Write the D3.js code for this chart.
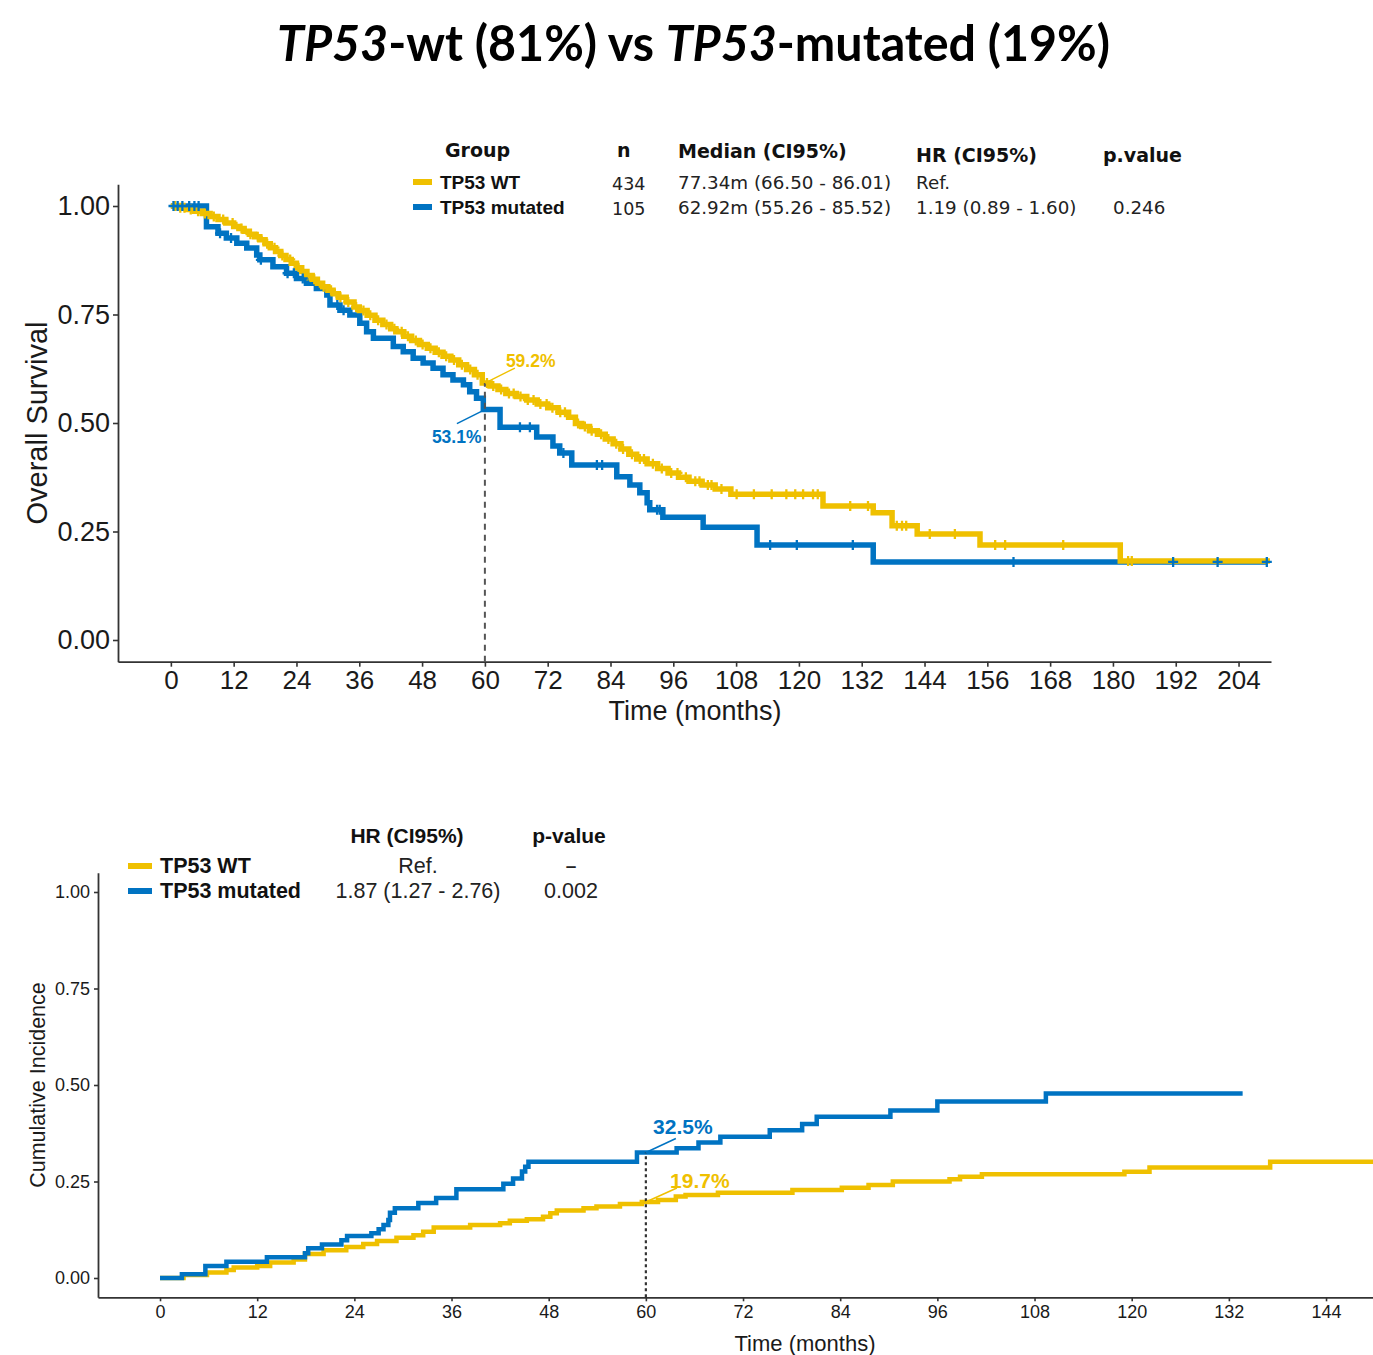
<!DOCTYPE html>
<html>
<head>
<meta charset="utf-8">
<script src="https://cdn.jsdelivr.net/npm/d3@7"></script>
<style>
  html, body { margin: 0; padding: 0; background: #fff; }
  svg { display: block; }
</style>
</head>
<body>
<svg id="chart" width="1373" height="1355"></svg>
<script>
// ---------------- data ----------------
const groups = ["TP53 WT", "TP53 mutated"];
const groupColors = ["#EFC000", "#0073C2"];

const titleParts = [
  { text: "TP53", italic: true },
  { text: "-wt (81%) vs ", italic: false },
  { text: "TP53", italic: true },
  { text: "-mutated (19%)", italic: false }
];

// Overall survival: event times (months) and survival after each step
const wtOsTime = [1.5, 3, 4.5, 6, 7.5, 9, 10.5, 12, 13, 14, 15, 16, 17, 18, 19, 20, 21, 22, 23, 24, 25, 26, 27, 28, 29, 30, 31, 32,
  33.5, 35, 36, 37.5, 39, 40.5, 42, 43, 44.5, 46, 47.5, 49, 50.5, 52, 53.5, 55, 56.5, 58, 59.5,
  61, 62.5, 64, 66, 68, 70, 72, 74, 76, 77.3,
  78.5, 80, 81.5, 83, 84.5, 86, 87.5, 89, 91, 93, 95, 97, 99, 101.5, 104, 107,
  124.6, 134.2, 137.8, 142.6, 154.6, 181.4];
const wtOsSurv = [0.996, 0.992, 0.988, 0.983, 0.976, 0.969, 0.961, 0.953,
  0.948, 0.942, 0.935, 0.929, 0.922, 0.913, 0.904, 0.895, 0.886, 0.877, 0.868, 0.858, 0.849, 0.840, 0.831, 0.822, 0.814, 0.806, 0.798, 0.790,
  0.779, 0.767, 0.759, 0.748, 0.737, 0.727, 0.717, 0.710, 0.700, 0.690, 0.681, 0.672, 0.663, 0.654, 0.645, 0.634, 0.623, 0.611, 0.592,
  0.585, 0.577, 0.568, 0.561, 0.553, 0.544, 0.535, 0.525, 0.513, 0.499,
  0.492, 0.482, 0.474, 0.463, 0.452, 0.440, 0.428, 0.417, 0.406, 0.395, 0.385, 0.375, 0.366, 0.357, 0.348, 0.336,
  0.309, 0.293, 0.263, 0.244, 0.219, 0.182];
const wtOsEnd = 210;
const wtOsCensor = [0.8, 1.8, 2.6, 3.8, 5.2, 6.5, 8.2, 10, 11.8, 13.5, 15.2, 16.6, 18.4, 19.8, 21.3, 22.8, 24.4, 26.1, 27.4, 29.2,
  30.6, 32.4, 33.9, 35.4, 36.8, 38.1, 39.6, 41.2, 42.7, 44.1, 45.3, 46.8, 48.1, 49.6, 51.2, 52.6, 54.1, 55.6, 57.2, 58.6,
  60.4, 61.6, 63.1, 64.6, 65.5, 66.8, 68.2, 69.3, 70.6, 71.8, 72.9, 74.4, 75.3, 77.8, 79.1, 80.4, 82.2, 83.6, 85.1, 86.4,
  88.1, 89.6, 90.4, 92.1, 93.8, 95.6, 96.8, 98.4, 100.2, 101.0, 102.6, 103.3, 105.2, 108.1, 111.4, 114.8, 117.6, 119.3,
  120.8, 122.7, 123.6, 129.8, 133.2, 138.7, 139.7, 140.5, 145.0, 149.8, 157.5, 159.4, 170.5, 182.9, 183.6];

const mutOsTime = [6.8, 9.0, 10.6, 12.6, 14.5, 16.4, 17.0, 19.5,
  22.1, 24.0, 25.9, 27.8, 29.8, 30.4, 32.3, 34.2, 36.1, 37.4, 38.7,
  42.5, 44.4, 46.3, 48.2, 50.1, 52.0, 53.9, 55.9, 57.1, 58.4, 59.7,
  62.9, 69.9, 73.0, 74.3, 76.6, 85.2, 87.7, 89.6, 91.0, 91.5, 94.0, 101.7, 112.0, 134.2];
const mutOsSurv = [0.952, 0.937, 0.926, 0.914, 0.903, 0.887, 0.876, 0.860,
  0.845, 0.833, 0.822, 0.810, 0.795, 0.772, 0.760, 0.749, 0.730, 0.710, 0.695,
  0.676, 0.664, 0.649, 0.638, 0.626, 0.611, 0.599, 0.588, 0.572, 0.557, 0.531,
  0.490, 0.468, 0.447, 0.431, 0.403, 0.376, 0.357, 0.339, 0.316, 0.300, 0.283, 0.260, 0.219, 0.180];
const mutOsEnd = 209.4;
const mutOsCensor = [0.5, 1.3, 2.2, 3.5, 4.5, 5.3, 9.4, 11.5, 17.2, 22.3, 23.5, 25.2, 31.8, 33.0,
  66.7, 68.6, 75.0, 81.4, 82.4, 92.9, 93.4, 114.5, 119.6, 130.3, 161.0, 191.5, 200.0, 209.4];

const osXTicks = [0, 12, 24, 36, 48, 60, 72, 84, 96, 108, 120, 132, 144, 156, 168, 180, 192, 204];
const osYTicks = [0, 0.25, 0.5, 0.75, 1];

const osHeaders = ["Group", "n", "Median (CI95%)", "HR (CI95%)", "p.value"];
const osN = ["434", "105"];
const osMedian = ["77.34m (66.50 - 86.01)", "62.92m (55.26 - 85.52)"];
const osHR = ["Ref.", "1.19 (0.89 - 1.60)"];
const osP = ["", "0.246"];

// Cumulative incidence: event times (months) and cumulative incidence after each step
const wtCiTime = [2.9, 5.8, 8.2, 9.1, 12.0, 13.6, 16.5, 17.9, 20.2, 23.0,
  25.1, 26.8, 29.2, 31.3, 32.5, 33.8, 38.3, 42.0, 43.2, 45.3,
  47.3, 48.2, 49.0, 52.3, 53.9, 56.8, 59.5, 61.5, 63.7, 64.9,
  68.9, 78.1, 84.2, 87.5, 90.5, 97.5, 98.8, 101.5, 119.1, 122.2, 137.1];
const wtCiVal = [0.008, 0.014, 0.021, 0.027, 0.031, 0.040, 0.048, 0.062, 0.072, 0.080,
  0.088, 0.096, 0.104, 0.111, 0.120, 0.131, 0.137, 0.142, 0.148, 0.152,
  0.159, 0.168, 0.175, 0.181, 0.185, 0.192, 0.197, 0.202, 0.211, 0.215,
  0.221, 0.228, 0.234, 0.241, 0.250, 0.256, 0.262, 0.269, 0.275, 0.286, 0.301];
const wtCiEnd = 149.8;

const mutCiTime = [2.7, 5.6, 8.2, 13.2, 17.9, 18.3, 20.0, 22.4, 23.1, 26.1,
  27.0, 27.6, 28.2, 28.4, 29.0, 31.9, 34.1, 36.6, 42.4, 43.6,
  44.7, 45.1, 45.5, 58.9, 63.8, 66.5, 69.2, 75.3, 79.3, 81.1,
  90.2, 96.0, 109.4];
const mutCiVal = [0.010, 0.031, 0.042, 0.054, 0.064, 0.077, 0.087, 0.098, 0.109, 0.116,
  0.126, 0.137, 0.150, 0.169, 0.181, 0.194, 0.207, 0.230, 0.244, 0.258,
  0.276, 0.288, 0.301, 0.325, 0.336, 0.351, 0.366, 0.383, 0.399, 0.418,
  0.434, 0.457, 0.478];
const mutCiEnd = 133.7;

const ciXTicks = [0, 12, 24, 36, 48, 60, 72, 84, 96, 108, 120, 132, 144];
const ciYTicks = [0, 0.25, 0.5, 0.75, 1];

const ciHeaders = ["HR (CI95%)", "p-value"];
const ciHR = ["Ref.", "1.87 (1.27 - 2.76)"];
const ciP = ["\u2013", "0.002"];

const landmark = 60;

// ---------------- helpers ----------------
function stepPoints(times, vals, start, end) {
  const pts = [[0, start]];
  times.forEach((t, i) => pts.push([t, vals[i]]));
  pts.push([end, vals[vals.length - 1]]);
  return pts;
}
function valueAt(times, vals, start, t) {
  let v = start;
  for (let i = 0; i < times.length; i++) if (times[i] <= t) v = vals[i];
  return v;
}
const pct = d3.format(".1%");
const SANS = "'Liberation Sans', Arial, sans-serif";
const DEJA = "'DejaVu Sans', Verdana, sans-serif";

const svg = d3.select("#chart");

// ---------------- title ----------------
const title = svg.append("text")
  .attr("x", 277).attr("y", 61)
  .attr("font-family", "Lato, 'Open Sans', sans-serif")
  .attr("font-weight", 700)
  .attr("font-size", 50)
  .attr("fill", "#000")
  .attr("textLength", 833)
  .attr("lengthAdjust", "spacingAndGlyphs");
titleParts.forEach(p => title.append("tspan")
  .attr("font-style", p.italic ? "italic" : "normal")
  .text(p.text));

function styleAxis(g, fontSize) {
  g.select(".domain").attr("stroke", "#333").attr("stroke-width", 1.8);
  g.selectAll(".tick line").attr("stroke", "#333").attr("stroke-width", 1.6);
  g.selectAll(".tick text").attr("font-family", SANS).attr("font-size", fontSize).attr("fill", "#1a1a1a");
}

function crossPath(px, py, r) {
  return `M${px - r},${py}H${px + r}M${px},${py - r}V${py + r}`;
}

// ================= Overall survival panel =================
const x1 = d3.scaleLinear().domain([-10.1, 210.2]).range([118, 1271]);
const y1 = d3.scaleLinear().domain([-0.05, 1.05]).range([661.7, 184.3]);

const gx1 = svg.append("g").attr("transform", `translate(0,${y1.range()[0]})`)
  .call(d3.axisBottom(x1).tickValues(osXTicks).tickSize(5).tickSizeOuter(0).tickPadding(4));
styleAxis(gx1, 26);
const gy1 = svg.append("g").attr("transform", `translate(${x1.range()[0]},0)`)
  .call(d3.axisLeft(y1).tickValues(osYTicks).tickFormat(d3.format(".2f")).tickSize(5).tickSizeOuter(0).tickPadding(3));
styleAxis(gy1, 27);

svg.append("text").attr("x", 695).attr("y", 720)
  .attr("text-anchor", "middle").attr("font-family", SANS).attr("font-size", 27).attr("fill", "#1a1a1a")
  .text("Time (months)");
svg.append("text").attr("transform", "translate(47,423) rotate(-90)")
  .attr("text-anchor", "middle").attr("font-family", SANS).attr("font-size", 29).attr("fill", "#1a1a1a")
  .text("Overall Survival");

const osLine = d3.line().x(d => x1(d[0])).y(d => y1(d[1])).curve(d3.curveStepAfter);
const osSeries = [
  { time: wtOsTime, val: wtOsSurv, end: wtOsEnd, censor: wtOsCensor, color: groupColors[0] },
  { time: mutOsTime, val: mutOsSurv, end: mutOsEnd, censor: mutOsCensor, color: groupColors[1] }
];
// mutated curve first, WT above it
[osSeries[1], osSeries[0]].forEach(s => {
  svg.append("path").datum(stepPoints(s.time, s.val, 1, s.end))
    .attr("d", osLine).attr("fill", "none").attr("stroke", s.color)
    .attr("stroke-width", 5.5).attr("stroke-linejoin", "miter");
});
osSeries.forEach(s => {
  svg.append("g").selectAll("path").data(s.censor).join("path")
    .attr("d", t => crossPath(x1(t), y1(valueAt(s.time, s.val, 1, t)), 5))
    .attr("stroke", s.color).attr("stroke-width", 2.3).attr("fill", "none");
});

// landmark at 60 months
const osLmWT = valueAt(wtOsTime, wtOsSurv, 1, landmark);
const osLmMut = valueAt(mutOsTime, mutOsSurv, 1, landmark);
svg.append("line")
  .attr("x1", x1(landmark)).attr("x2", x1(landmark))
  .attr("y1", y1.range()[0]).attr("y2", y1(osLmWT))
  .attr("stroke", "#555").attr("stroke-width", 2).attr("stroke-dasharray", "6,5");
svg.append("line").attr("x1", x1(landmark)).attr("y1", y1(osLmWT))
  .attr("x2", x1(landmark) + 30).attr("y2", y1(osLmWT) - 15)
  .attr("stroke", groupColors[0]).attr("stroke-width", 1.5);
svg.append("text").attr("x", x1(landmark) + 21).attr("y", y1(osLmWT) - 16)
  .attr("font-family", SANS).attr("font-weight", 700).attr("font-size", 17.5).attr("fill", groupColors[0])
  .text(pct(osLmWT));
svg.append("line").attr("x1", x1(landmark)).attr("y1", y1(osLmMut))
  .attr("x2", x1(landmark) - 28).attr("y2", y1(osLmMut) + 14)
  .attr("stroke", groupColors[1]).attr("stroke-width", 1.5);
svg.append("text").attr("x", x1(landmark) - 53).attr("y", y1(osLmMut) + 33)
  .attr("font-family", SANS).attr("font-weight", 700).attr("font-size", 17.5).attr("fill", groupColors[1])
  .text(pct(osLmMut));

// legend table
const osCols = [445, 617, 678, 916, 1103];
const osHeadY = [157, 157, 158, 162, 162];
osHeaders.forEach((h, i) => svg.append("text")
  .attr("x", osCols[i]).attr("y", osHeadY[i])
  .attr("font-family", DEJA).attr("font-weight", 700).attr("font-size", 19).attr("fill", "#111")
  .text(h));
const osRowY = [189, 214];
groups.forEach((g, i) => {
  const yy = osRowY[i];
  svg.append("line").attr("x1", 413).attr("x2", 432).attr("y1", yy - 7).attr("y2", yy - 7)
    .attr("stroke", groupColors[i]).attr("stroke-width", 6);
  svg.append("text").attr("x", 440).attr("y", yy)
    .attr("font-family", SANS).attr("font-weight", 700).attr("font-size", 19).attr("fill", "#111").text(g);
  svg.append("text").attr("x", 612).attr("y", yy + 1)
    .attr("font-family", DEJA).attr("font-size", 17.5).attr("fill", "#222").text(osN[i]);
  svg.append("text").attr("x", 678).attr("y", yy)
    .attr("font-family", DEJA).attr("font-size", 18.3).attr("fill", "#222").text(osMedian[i]);
  svg.append("text").attr("x", 916).attr("y", yy)
    .attr("font-family", DEJA).attr("font-size", 18.3).attr("fill", "#222").text(osHR[i]);
  svg.append("text").attr("x", 1113).attr("y", yy)
    .attr("font-family", DEJA).attr("font-size", 18.3).attr("fill", "#222").text(osP[i]);
});

// ================= Cumulative incidence panel =================
const x2 = d3.scaleLinear().domain([-7.66, 149.8]).range([98, 1373]);
const y2 = d3.scaleLinear().domain([-0.05, 1.05]).range([1297.3, 872.7]);

const gx2 = svg.append("g").attr("transform", `translate(0,${y2.range()[0]})`)
  .call(d3.axisBottom(x2).tickValues(ciXTicks).tickSize(4).tickSizeOuter(0).tickPadding(4));
styleAxis(gx2, 18);
const gy2 = svg.append("g").attr("transform", `translate(${x2.range()[0]},0)`)
  .call(d3.axisLeft(y2).tickValues(ciYTicks).tickFormat(d3.format(".2f")).tickSize(4).tickSizeOuter(0).tickPadding(4));
styleAxis(gy2, 18);

svg.append("text").attr("x", 805).attr("y", 1351)
  .attr("text-anchor", "middle").attr("font-family", SANS).attr("font-size", 22).attr("fill", "#1a1a1a")
  .text("Time (months)");
svg.append("text").attr("transform", "translate(45,1085) rotate(-90)")
  .attr("text-anchor", "middle").attr("font-family", SANS).attr("font-size", 21.5).attr("fill", "#1a1a1a")
  .text("Cumulative Incidence");

const ciLine = d3.line().x(d => x2(d[0])).y(d => y2(d[1])).curve(d3.curveStepAfter);
const ciSeries = [
  { time: wtCiTime, val: wtCiVal, end: wtCiEnd, color: groupColors[0] },
  { time: mutCiTime, val: mutCiVal, end: mutCiEnd, color: groupColors[1] }
];
ciSeries.forEach(s => {
  svg.append("path").datum(stepPoints(s.time, s.val, 0, s.end))
    .attr("d", ciLine).attr("fill", "none").attr("stroke", s.color)
    .attr("stroke-width", 4.5).attr("stroke-linejoin", "miter");
});

const ciLmWT = valueAt(wtCiTime, wtCiVal, 0, landmark);
const ciLmMut = valueAt(mutCiTime, mutCiVal, 0, landmark);
svg.append("line")
  .attr("x1", x2(landmark)).attr("x2", x2(landmark))
  .attr("y1", y2.range()[0]).attr("y2", y2(ciLmMut))
  .attr("stroke", "#333").attr("stroke-width", 2.2).attr("stroke-dasharray", "3,3");
svg.append("line").attr("x1", x2(landmark)).attr("y1", y2(ciLmMut))
  .attr("x2", x2(landmark) + 30).attr("y2", y2(ciLmMut) - 14)
  .attr("stroke", groupColors[1]).attr("stroke-width", 1.5);
svg.append("text").attr("x", x2(landmark) + 37).attr("y", y2(ciLmMut) - 19)
  .attr("text-anchor", "middle")
  .attr("font-family", SANS).attr("font-weight", 700).attr("font-size", 21).attr("fill", groupColors[1])
  .text(pct(ciLmMut));
svg.append("line").attr("x1", x2(landmark)).attr("y1", y2(ciLmWT))
  .attr("x2", x2(landmark) + 31).attr("y2", y2(ciLmWT) - 14)
  .attr("stroke", groupColors[0]).attr("stroke-width", 1.5);
svg.append("text").attr("x", x2(landmark) + 54).attr("y", y2(ciLmWT) - 14)
  .attr("text-anchor", "middle")
  .attr("font-family", SANS).attr("font-weight", 700).attr("font-size", 21).attr("fill", groupColors[0])
  .text(pct(ciLmWT));

// legend table
const ciCols = [407, 569];
ciHeaders.forEach((h, i) => svg.append("text")
  .attr("x", ciCols[i]).attr("y", 843).attr("text-anchor", "middle")
  .attr("font-family", SANS).attr("font-weight", 700).attr("font-size", 21).attr("fill", "#111")
  .text(h));
const ciRowY = [873, 898];
groups.forEach((g, i) => {
  const yy = ciRowY[i];
  svg.append("line").attr("x1", 128).attr("x2", 152).attr("y1", yy - 7).attr("y2", yy - 7)
    .attr("stroke", groupColors[i]).attr("stroke-width", 6);
  svg.append("text").attr("x", 160).attr("y", yy)
    .attr("font-family", SANS).attr("font-weight", 700).attr("font-size", 21.5).attr("fill", "#111").text(g);
  svg.append("text").attr("x", 418).attr("y", yy).attr("text-anchor", "middle")
    .attr("font-family", SANS).attr("font-size", 21.5).attr("fill", "#222").text(ciHR[i]);
  svg.append("text").attr("x", 571).attr("y", i === 0 ? yy - 1 : yy).attr("text-anchor", "middle")
    .attr("font-family", SANS).attr("font-weight", i === 0 ? 700 : 400).attr("font-size", i === 0 ? 19 : 21.5)
    .attr("fill", "#222").text(ciP[i]);
});
</script>
</body>
</html>
